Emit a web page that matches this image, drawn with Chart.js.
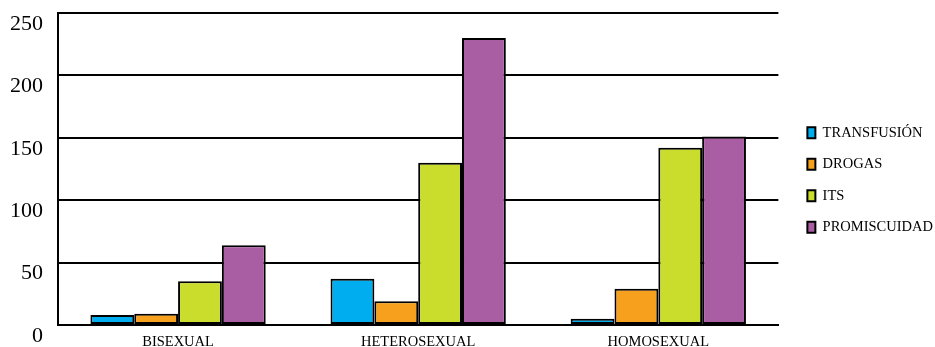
<!DOCTYPE html>
<html>
<head>
<meta charset="utf-8">
<script src="https://cdn.jsdelivr.net/npm/chart.js@4"></script>
<style>
  html, body { margin: 0; padding: 0; background: #fff; }
  #wrap { width: 935px; height: 347px; }
</style>
</head>
<body>
<div id="wrap"><canvas id="grafico"></canvas></div>
<script>
const categorias = ["BISEXUAL", "HETEROSEXUAL", "HOMOSEXUAL"];
const transfusion = [8, 37, 5];
const drogas = [9, 19, 29];
const its = [35, 130, 142];
const promiscuidad = [64, 230, 151];
const yTicks = [0, 50, 100, 150, 200, 250];

const serif = "'Liberation Serif', 'Times New Roman', serif";
const LEGEND_GAP = 4;    // espacio extra entre el área y la leyenda
const LEGEND_SHIFT = 12; // desplazamiento de la leyenda hacia la derecha

function serie(label, data, color) {
  return {
    label: label,
    data: data,
    backgroundColor: color,
    borderColor: "#000",
    borderWidth: 2,
    borderSkipped: false,
    barPercentage: 1,
    categoryPercentage: 0.73
  };
}

const legendGap = {
  id: "legendGap",
  afterInit(chart) {
    const lg = chart.legend;
    if (!lg) return;
    const fit = lg.fit;
    lg.fit = function () {
      fit.call(this);
      this.width += LEGEND_GAP;
    };
  },
  afterLayout(chart) {
    if (chart.legend) chart.legend.left += LEGEND_SHIFT;
  }
};

new Chart(document.getElementById("grafico").getContext("2d"), {
  type: "bar",
  data: {
    labels: categorias,
    datasets: [
      serie("TRANSFUSIÓN", transfusion, "#00AEEF"),
      serie("DROGAS", drogas, "#F7A01E"),
      serie("ITS", its, "#CADC2C"),
      serie("PROMISCUIDAD", promiscuidad, "#A95EA4")
    ]
  },
  plugins: [legendGap],
  options: {
    responsive: true,
    maintainAspectRatio: false,
    animation: false,
    layout: { padding: { top: 13, right: 0, left: 10, bottom: 0 } },
    plugins: {
      tooltip: { enabled: false },
      legend: {
        position: "right",
        labels: {
          color: "#000",
          font: { family: serif, size: 14.5 },
          boxWidth: 8,
          boxHeight: 11,
          padding: 17
        }
      }
    },
    scales: {
      x: {
        grid: { display: false, drawTicks: false },
        border: { color: "#000", width: 2 },
        ticks: { color: "#000", font: { family: serif, size: 14.5, lineHeight: 1 }, padding: 10 },
        afterFit: axis => {
          axis.paddingLeft = 0;
          axis.paddingRight = 0;
          axis.height = 22;
        }
      },
      y: {
        min: 0,
        max: 250,
        afterBuildTicks: axis => { axis.ticks = yTicks.map(v => ({ value: v })); },
        afterFit: axis => {
          axis.paddingTop = 0;
          axis.paddingBottom = 0;
          axis.width = 48;
        },
        grid: { color: "#000", lineWidth: 2, drawTicks: false },
        border: { color: "#000", width: 2 },
        ticks: {
          color: "#000",
          font: { family: serif, size: 22 },
          padding: 15,
          labelOffset: 11
        }
      }
    }
  }
});
</script>
</body>
</html>
